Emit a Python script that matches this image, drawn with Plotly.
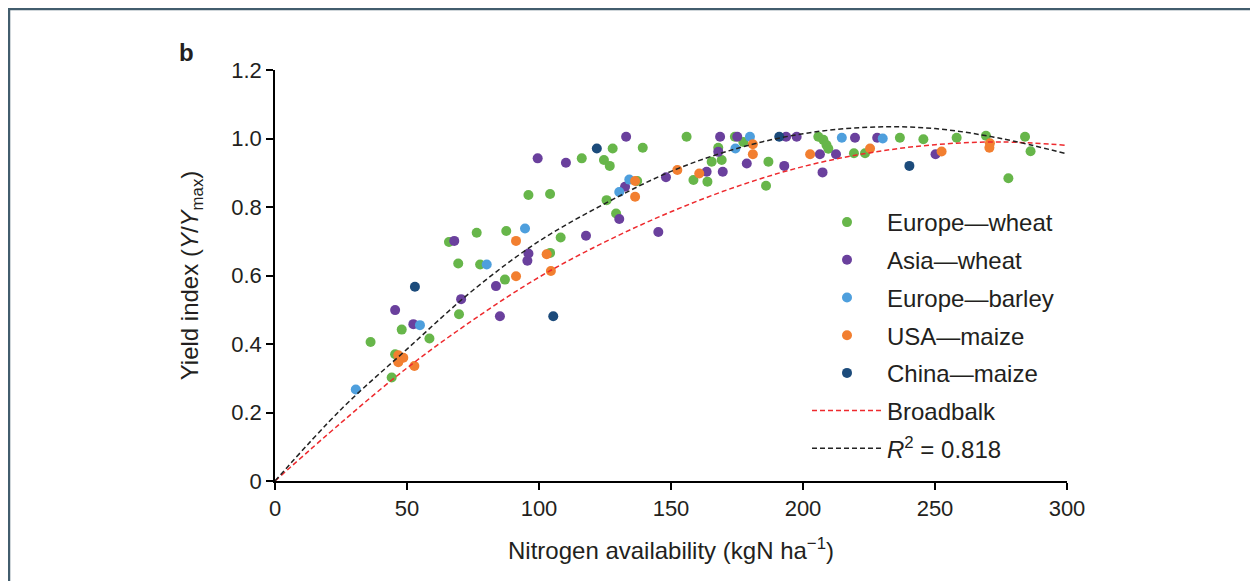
import plotly.graph_objects as go

# ---------------- data ----------------
eu_wheat_x = [36.2, 44.2, 45.5, 48.0, 58.5, 65.9, 69.4, 69.7, 76.4, 77.7, 87.1, 87.6, 96.0,
              104.2, 104.2, 108.2, 116.2, 124.6, 126.8, 125.6, 127.9, 129.2, 137.2, 139.3,
              155.9, 158.5, 163.8, 165.4, 167.9, 169.2, 174.2, 177.4, 186.9, 186.0, 205.8,
              207.7, 208.9, 209.6, 219.3, 223.5, 236.7, 245.6, 258.2, 269.3, 277.8, 284.1, 286.2]
eu_wheat_y = [0.406, 0.302, 0.370, 0.442, 0.416, 0.698, 0.635, 0.487, 0.725, 0.632, 0.588, 0.730,
              0.835, 0.838, 0.666, 0.711, 0.942, 0.937, 0.920, 0.820, 0.971, 0.781, 0.876, 0.973,
              1.005, 0.879, 0.874, 0.932, 0.973, 0.937, 1.005, 0.990, 0.932, 0.862, 1.005,
              0.996, 0.981, 0.970, 0.957, 0.957, 1.002, 0.998, 1.002, 1.008, 0.884, 1.005, 0.963]

asia_wheat_x = [45.5, 52.4, 67.9, 70.5, 83.7, 85.2, 95.6, 96.0, 99.5, 110.2, 117.8, 130.4, 132.6,
                133.0, 145.2, 148.1, 163.5, 167.9, 168.6, 169.6, 175.1, 178.7, 192.9, 193.6,
                197.6, 206.4, 207.4, 212.5, 219.7, 228.1, 250.2]
asia_wheat_y = [0.499, 0.458, 0.701, 0.531, 0.569, 0.481, 0.643, 0.664, 0.942, 0.929, 0.716, 0.765,
                0.859, 1.005, 0.727, 0.887, 0.903, 0.961, 1.005, 0.903, 1.005, 0.927, 0.920, 1.005,
                1.005, 0.954, 0.901, 0.954, 1.002, 1.002, 0.954]

eu_barley_x = [30.6, 54.9, 80.2, 94.7, 130.4, 134.2, 174.4, 179.9, 214.7, 230.2]
eu_barley_y = [0.267, 0.455, 0.632, 0.737, 0.844, 0.880, 0.971, 1.005, 1.002, 1.000]

usa_maize_x = [46.7, 48.6, 46.7, 52.8, 91.3, 91.3, 102.9, 104.5, 136.4, 136.4, 152.4, 160.7,
               181.0, 181.0, 202.7, 225.4, 252.5, 270.8, 270.6]
usa_maize_y = [0.367, 0.360, 0.347, 0.336, 0.701, 0.598, 0.662, 0.613, 0.876, 0.830, 0.908, 0.898,
               0.983, 0.954, 0.954, 0.971, 0.962, 0.986, 0.973]

china_maize_x = [53.0, 105.4, 121.9, 191.0, 240.3]
china_maize_y = [0.567, 0.481, 0.971, 1.005, 0.920]

curve_x = [0, 25, 50, 75, 100, 125, 150, 175, 200, 225, 250, 275, 300]
broadbalk_y = [0.0, 0.17, 0.33, 0.47, 0.595, 0.698, 0.786, 0.86, 0.918, 0.958, 0.982, 0.99, 0.98]
fit_y = [0.0, 0.209, 0.385, 0.557, 0.70, 0.81, 0.904, 0.971, 1.014, 1.033, 1.029, 1.0, 0.955]

x_ticks = [0, 50, 100, 150, 200, 250, 300]
y_ticks = [0, 0.2, 0.4, 0.6, 0.8, 1.0, 1.2]
y_ticktext = ["0", "0.2", "0.4", "0.6", "0.8", "1.0", "1.2"]

series = [
    ("Europe\u2014wheat", eu_wheat_x, eu_wheat_y, "#67b64a"),
    ("Asia\u2014wheat", asia_wheat_x, asia_wheat_y, "#6a409d"),
    ("Europe\u2014barley", eu_barley_x, eu_barley_y, "#4e9fdd"),
    ("USA\u2014maize", usa_maize_x, usa_maize_y, "#f27f30"),
    ("China\u2014maize", china_maize_x, china_maize_y, "#1c4b7b"),
]

FONT = "Liberation Sans, Arial, Helvetica, sans-serif"
TXT = "#231f20"

fig = go.Figure()
for i, (name, xs, ys, col) in enumerate(series):
    fig.add_trace(go.Scatter(
        x=xs, y=ys, mode="markers", name=name, legendgroup=f"g{i}",
        marker=dict(color=col, size=10, line=dict(width=0)),
        cliponaxis=False,
    ))

fig.add_trace(go.Scatter(
    x=curve_x, y=broadbalk_y, mode="lines", name="Broadbalk", legendgroup="g5",
    line=dict(color="#ee2a2e", width=1.5, dash="5px,3px", shape="spline"),
))
fig.add_trace(go.Scatter(
    x=curve_x, y=fit_y, mode="lines", name="<i>R</i><sup>2</sup> = 0.818", legendgroup="g6",
    line=dict(color="#222222", width=1.5, dash="5px,3px", shape="spline"),
))

# page has an 8px body margin: figure coordinates = page coordinates - 8
W, H = 1250, 573
L, T = 267, 62
R = W - 1059
B = H - 473
pw, ph = W - L - R, H - T - B


def px2paper(px, py):
    return (px - L) / pw, (H - B - py) / ph


bx0, by0 = px2paper(1, 590)
bx1, by1 = px2paper(1245, 1)

lx, ly = px2paper(799, 192)
ax_b, ay_b = px2paper(178, 44)

fig.update_layout(
    width=W, height=H,
    margin=dict(l=L, r=R, t=T, b=B, pad=0),
    paper_bgcolor="white", plot_bgcolor="white",
    font=dict(family=FONT, size=22, color=TXT),
    showlegend=True,
    legend=dict(
        x=lx, y=ly, xanchor="left", yanchor="top",
        bgcolor="rgba(0,0,0,0)", borderwidth=0,
        font=dict(family=FONT, size=24, color=TXT),
        itemwidth=70, tracegroupgap=3.5,
    ),
    xaxis=dict(
        range=[0, 300], tickvals=x_ticks, ticktext=[str(v) for v in x_ticks],
        showgrid=False, zeroline=False,
        showline=True, linecolor="black", linewidth=1.5,
        ticks="outside", ticklen=7, tickwidth=1.5, tickcolor="black",
        tickfont=dict(family=FONT, size=22, color=TXT),
        title=dict(text="Nitrogen availability (kgN ha<sup>\u22121</sup>)",
                   font=dict(family=FONT, size=24, color=TXT), standoff=22),
    ),
    yaxis=dict(
        range=[0, 1.2], tickvals=y_ticks, ticktext=y_ticktext,
        showgrid=False, zeroline=False,
        showline=True, linecolor="black", linewidth=1.5,
        ticks="outside", ticklen=7, tickwidth=1.5, tickcolor="black",
        tickfont=dict(family=FONT, size=22, color=TXT),
        title=dict(text="Yield index (<i>Y</i>/<i>Y</i><sub>max</sub>)",
                   font=dict(family=FONT, size=24, color=TXT), standoff=26),
    ),
    shapes=[dict(type="rect", xref="paper", yref="paper",
                 x0=bx0, x1=bx1, y0=by0, y1=by1,
                 line=dict(color="#425d6d", width=2.5), fillcolor="rgba(0,0,0,0)",
                 layer="below")],
    annotations=[dict(text="<b>b</b>", xref="paper", yref="paper", x=ax_b, y=ay_b,
                      xanchor="center", yanchor="middle", showarrow=False,
                      font=dict(family=FONT, size=24, color=TXT))],
)

fig.write_html("out.html")
